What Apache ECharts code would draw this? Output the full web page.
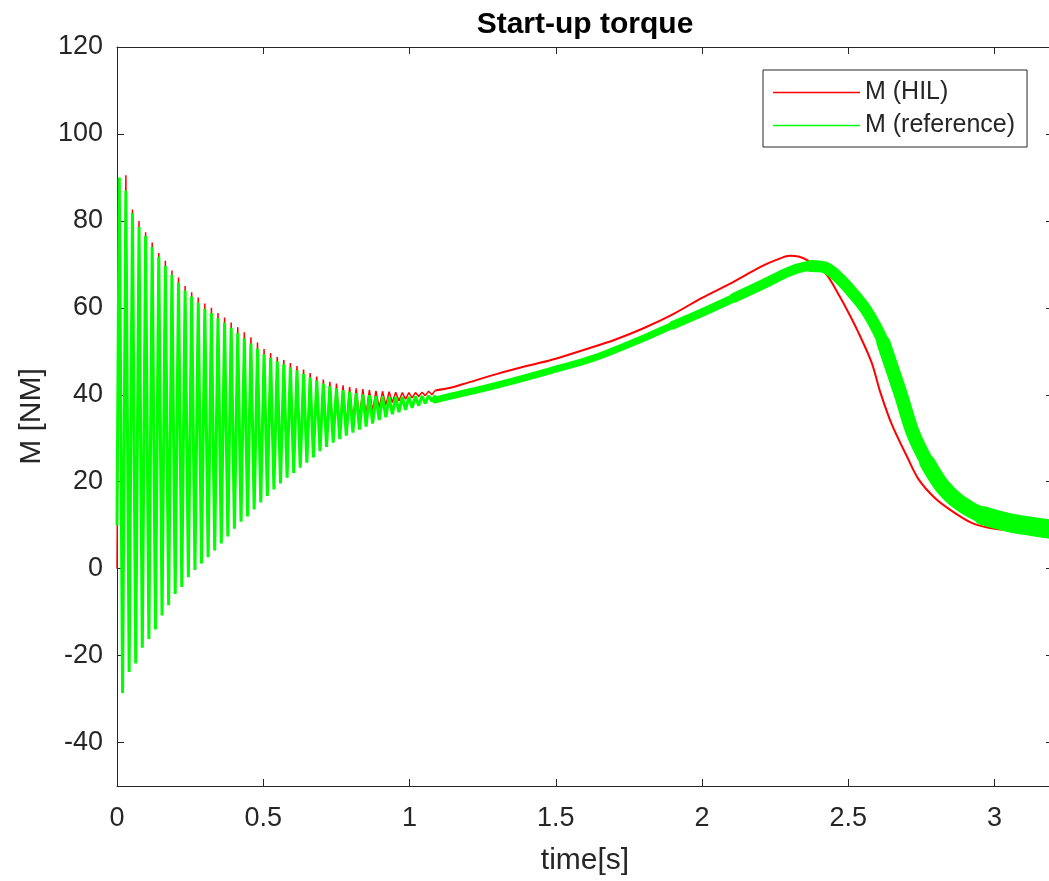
<!DOCTYPE html>
<html>
<head>
<meta charset="utf-8">
<script src="https://cdn.jsdelivr.net/npm/echarts@6/dist/echarts.min.js"></script>
<style>
  html, body { margin: 0; padding: 0; overflow: hidden; background: #fff; }
  #main { width: 1170px; height: 881px; }
</style>
</head>
<body>
<div id="main"></div>
<script>
// tick labels
const xTicks = [0, 0.5, 1, 1.5, 2, 2.5, 3];
const yTicks = [-40, -20, 0, 20, 40, 60, 80, 100, 120];

// start-up oscillation, read as peaks and troughs
const peakTime = [0.0078, 0.0303, 0.0528, 0.0753, 0.0978, 0.1203, 0.1428, 0.1653, 0.1878, 0.2103,
  0.2328, 0.2553, 0.2778, 0.3003, 0.3228, 0.3453, 0.3678, 0.3903, 0.4128, 0.4353,
  0.4578, 0.4803, 0.5028, 0.5253, 0.5478, 0.5703, 0.5928, 0.6153, 0.6378, 0.6603,
  0.6828, 0.7053, 0.7278, 0.7503, 0.7728, 0.7953, 0.8178, 0.8403, 0.8628, 0.8853,
  0.9078, 0.9303, 0.9528, 0.9753, 0.9978, 1.0203, 1.0428, 1.0653, 1.0878];
const troughTime = [0.019, 0.0415, 0.064, 0.0865, 0.109, 0.1315, 0.154, 0.1765, 0.199, 0.2215,
  0.244, 0.2665, 0.289, 0.3115, 0.334, 0.3565, 0.379, 0.4015, 0.424, 0.4465,
  0.469, 0.4915, 0.514, 0.5365, 0.559, 0.5815, 0.604, 0.6265, 0.649, 0.6715,
  0.694, 0.7165, 0.739, 0.7615, 0.784, 0.8065, 0.829, 0.8515, 0.874, 0.8965,
  0.919, 0.9415, 0.964, 0.9865, 1.009, 1.0315, 1.054, 1.0765];

const hilStart = 0;
const hilPeak = [88.0, 90.5, 82.6, 80.0, 77.4, 75.0, 72.6, 70.8, 68.6, 67.0,
  65.0, 63.6, 62.4, 61.0, 60.0, 58.8, 57.8, 56.6, 55.5, 54.4,
  53.2, 52.0, 50.5, 49.6, 48.7, 48.0, 47.3, 46.6, 45.8, 45.0,
  44.2, 43.5, 43.0, 42.6, 42.2, 41.8, 41.5, 41.3, 41.1, 40.9,
  40.8, 40.7, 40.6, 40.5, 40.5, 40.5, 40.6, 40.8, 41.0];
const hilTrough = [-28.0, -23.0, -21.0, -17.4, -15.4, -13.2, -10.0, -7.6, -5.0, -3.4,
  -1.2, 0.5, 2.0, 3.4, 5.0, 6.6, 8.2, 10.0, 11.6, 12.8,
  14.4, 16.0, 17.6, 19.2, 20.6, 21.9, 23.1, 24.4, 25.6, 26.9,
  28.4, 29.6, 30.8, 31.8, 32.8, 33.7, 34.6, 35.4, 36.2, 37.0,
  37.6, 38.2, 38.6, 39.0, 39.3, 39.6, 39.8, 40.0];

const refStart = 10;
const refPeak = [90.0, 87.0, 81.8, 78.6, 76.5, 74.0, 71.8, 69.6, 67.6, 65.8,
  64.0, 62.6, 61.2, 59.8, 58.8, 57.6, 56.6, 55.4, 54.2, 53.0,
  51.8, 50.6, 49.3, 48.5, 47.7, 47.0, 46.3, 45.6, 44.8, 44.0,
  43.3, 42.6, 42.0, 41.5, 41.1, 40.7, 40.4, 40.1, 39.9, 39.7,
  39.6, 39.5, 39.5, 39.5, 39.5, 39.6, 39.7, 39.8, 39.9];
const refTrough = [-28.6, -23.8, -21.8, -18.2, -16.2, -14.0, -10.8, -8.4, -5.8, -4.2,
  -2.0, -0.3, 1.2, 2.6, 4.2, 5.8, 7.4, 9.2, 10.8, 12.0,
  13.6, 15.2, 16.7, 18.2, 19.6, 20.9, 22.0, 23.2, 24.4, 25.6,
  27.0, 28.0, 29.0, 29.8, 30.6, 31.3, 32.0, 32.7, 33.4, 34.2,
  34.8, 35.5, 36.0, 36.5, 37.0, 37.5, 38.0, 38.5];

// after the oscillation has died out
const hilTime = [1.0878, 1.14, 1.2, 1.3, 1.4, 1.5, 1.6, 1.7, 1.8, 1.9, 2.0, 2.1, 2.2, 2.25, 2.3,
  2.33, 2.36, 2.4, 2.43, 2.47, 2.5, 2.53, 2.58, 2.61, 2.65, 2.7, 2.74, 2.8, 2.86, 2.92, 2.98, 3.05, 3.2];
const hilTorque = [41.0, 41.6, 42.8, 44.8, 46.6, 48.3, 50.4, 52.6, 55.3, 58.5, 62.3, 65.7, 69.4, 70.9, 72.0,
  71.8, 71.0, 69.2, 67.3, 62.7, 59.0, 55.0, 47.4, 40.5, 33.0, 25.9, 20.6, 16.0, 13.0, 10.6, 9.4, 8.8, 8.3];

const refTime = [1.0878, 1.14, 1.2, 1.31, 1.4, 1.48, 1.6, 1.65, 1.8, 1.9, 1.99, 2.11, 2.22, 2.30,
  2.37, 2.42, 2.45, 2.50, 2.56, 2.62, 2.68, 2.72, 2.77, 2.82, 2.88, 2.96, 3.05, 3.2];
const refTorque = [38.8, 39.7, 40.6, 42.4, 44.0, 45.5, 47.8, 48.9, 53.0, 56.0, 58.6, 62.3, 65.8, 68.4,
  69.6, 69.3, 68.0, 64.6, 59.6, 52.0, 40.0, 31.4, 24.4, 19.1, 15.2, 12.2, 10.6, 9.0];

function oscData(start, peaks, troughs) {
  let d = [[0, start]];
  for (let i = 0; i < peaks.length; i++) {
    d.push([peakTime[i], peaks[i]]);
    if (i < troughs.length) d.push([troughTime[i], troughs[i]]);
  }
  return d;
}
function pairs(t, v, from) {
  let d = [];
  for (let i = from; i < t.length; i++) d.push([t[i], v[i]]);
  return d;
}

const RED = '#ff0000';
const GREEN = '#00ff00';
const AX = '#262626';
const FONT = 'Liberation Sans';

// green band gets wider towards the end (ripple of the reference):
// [first index, line width], each layer runs to the end of the curve
const refLayers = [[0, 7], [9, 8.5], [11, 10], [14, 12], [19, 14], [22, 16], [25, 19]];

let series = [{
  name: 'M (HIL)', type: 'line', symbol: 'none',
  data: oscData(hilStart, hilPeak, hilTrough),
  lineStyle: { color: RED, width: 1.5 }, itemStyle: { color: RED }
}, {
  name: 'M (HIL)', type: 'line', symbol: 'none', smooth: 0.3,
  data: pairs(hilTime, hilTorque, 0),
  lineStyle: { color: RED, width: 2 }, itemStyle: { color: RED }
}, {
  name: 'M (reference)', type: 'line', symbol: 'none',
  data: oscData(refStart, refPeak, refTrough),
  lineStyle: { color: GREEN, width: 3 }, itemStyle: { color: GREEN }
}];
refLayers.forEach(p => {
  series.push({
    name: 'M (reference)', type: 'line', symbol: 'none', smooth: 0.3,
    data: pairs(refTime, refTorque, p[0]),
    lineStyle: { color: GREEN, width: p[1], cap: 'round', join: 'round' }, itemStyle: { color: GREEN }
  });
});

const chart = echarts.init(document.getElementById('main'));
chart.setOption({
  animation: false,
  textStyle: { fontFamily: FONT },
  title: {
    text: 'Start-up torque', left: 'center', top: 5,
    textStyle: { fontFamily: FONT, fontSize: 30, fontWeight: 'bold', color: '#000' }
  },
  legend: {
    orient: 'vertical', left: 763, top: 70,
    padding: [10, 12, 9, 10], itemGap: 8,
    icon: 'rect', itemWidth: 87, itemHeight: 1.5,
    borderColor: AX, borderWidth: 1, backgroundColor: '#fff',
    selectedMode: false,
    textStyle: { fontFamily: FONT, fontSize: 25, color: AX },
    data: ['M (HIL)', 'M (reference)']
  },
  grid: { left: 117, right: 117, top: 47, bottom: 94 },
  xAxis: [{
    type: 'value', min: 0, max: 3.2, position: 'bottom',
    name: 'time[s]', nameLocation: 'middle', nameGap: 60,
    nameTextStyle: { fontFamily: FONT, fontSize: 30, color: AX },
    axisLine: { show: true, onZero: false, lineStyle: { color: AX, width: 1 } },
    axisTick: { show: true, inside: true, length: 7, customValues: xTicks, lineStyle: { color: AX } },
    axisLabel: { customValues: xTicks, fontFamily: FONT, fontSize: 27, color: AX, margin: 19 },
    splitLine: { show: false }
  }, {
    type: 'value', min: 0, max: 3.2, position: 'top',
    axisLine: { show: true, onZero: false, lineStyle: { color: AX, width: 1 } },
    axisTick: { show: true, inside: true, length: 7, customValues: xTicks, lineStyle: { color: AX } },
    axisLabel: { show: false },
    splitLine: { show: false }
  }],
  yAxis: [{
    type: 'value', min: -50, max: 120, position: 'left',
    name: 'M [NM]', nameLocation: 'middle', nameGap: 65, nameRotate: 90,
    nameTextStyle: { fontFamily: FONT, fontSize: 30, color: AX },
    axisLine: { show: true, onZero: false, lineStyle: { color: AX, width: 1 } },
    axisTick: { show: true, inside: true, length: 7, customValues: yTicks, lineStyle: { color: AX } },
    axisLabel: { customValues: yTicks, fontFamily: FONT, fontSize: 27, color: AX, margin: 14 },
    splitLine: { show: false }
  }, {
    type: 'value', min: -50, max: 120, position: 'right',
    axisLine: { show: true, onZero: false, lineStyle: { color: AX, width: 1 } },
    axisTick: { show: true, inside: true, length: 7, customValues: yTicks, lineStyle: { color: AX } },
    axisLabel: { show: false },
    splitLine: { show: false }
  }],
  series: series
});
</script>
</body>
</html>
